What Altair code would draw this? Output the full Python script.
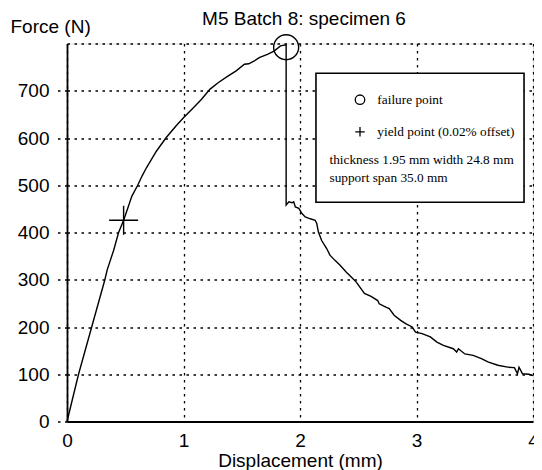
import altair as alt
import pandas as pd

# ---- data ----
disp = [0, 0.099, 0.212, 0.325, 0.345, 0.40, 0.443, 0.486, 0.528, 0.557, 0.607,
        0.645, 0.682, 0.767, 0.852, 0.937, 1.0, 1.085, 1.155, 1.226, 1.297, 1.381,
        1.452, 1.523, 1.56, 1.608, 1.65, 1.72, 1.777, 1.833, 1.881, 1.881, 1.904,
        1.932, 1.946, 1.96, 1.99, 2.017, 2.045, 2.088, 2.13, 2.144, 2.158, 2.186,
        2.229, 2.257, 2.30, 2.342, 2.398, 2.455, 2.483, 2.553, 2.61, 2.667, 2.68,
        2.737, 2.766, 2.808, 2.864, 2.907, 2.963, 2.992, 3.048, 3.119, 3.175, 3.231,
        3.316, 3.345, 3.36, 3.415, 3.486, 3.557, 3.613, 3.698, 3.783, 3.84, 3.867,
        3.88, 3.91, 3.966, 4.0]
force = [0, 100, 200, 300, 321, 362, 400, 426, 456, 477, 500,
         520, 537, 572, 601, 626, 643, 664, 682, 703, 717, 731,
         742, 756, 757, 763, 770, 777, 784, 795, 797, 458, 465,
         463, 465, 454, 451, 440, 433, 429, 426, 419, 401, 383,
         366, 352, 341, 331, 316, 302, 295, 271, 265, 256, 249,
         242, 239, 225, 214, 207, 200, 189, 186, 179, 168, 161,
         154, 147, 154, 143, 140, 133, 126, 119, 115, 114, 101,
         115, 101, 100, 97]

failure_disp = [1.881]
failure_force = [792]
yield_disp = [0.486]
yield_force = [426]

x_ticks = [0, 1, 2, 3, 4]
y_ticks = [0, 100, 200, 300, 400, 500, 600, 700, 800]

legend_entries = ["failure point", "yield point (0.02% offset)"]
legend_notes = ["thickness 1.95 mm width 24.8 mm", "support span 35.0 mm"]

# ---- annotation box layout (in data units) ----
BOX = dict(x1=2.137, x2=3.923, y1=464, y2=737)
SYM_X = 2.515
ENTRY_X = 2.664
ENTRY_Y = [681, 613]
NOTE_X = 2.253
NOTE_Y = [553, 516]

FONT = "Liberation Sans"
SERIF = "Liberation Serif"
PLUS = "M-1,0H1M0,-1V1"
DASH = [2.5, 4.5]

xs = alt.Scale(domain=[0, 4], nice=False, zero=False)
ys = alt.Scale(domain=[0, 800], nice=False)

x_axis = alt.Axis(values=x_ticks, format="d", title="Displacement (mm)",
                  grid=True, gridDash=DASH, gridColor="black", gridWidth=1.3, gridOpacity=1,
                  domainColor="black", domainWidth=1.8, ticks=False, tickSize=0,
                  labelPadding=10, labelFont=FONT, labelFontSize=19, labelColor="black",
                  labelFlush=False, labelOverlap=False,
                  titleFont=FONT, titleFontSize=19, titleFontWeight="normal",
                  titleColor="black", titleY=45, titleBaseline="alphabetic")
y_axis = alt.Axis(values=y_ticks, format="d", title="Force (N)",
                  labelExpr="datum.value == 800 ? '' : datum.label",
                  grid=True, gridDash=DASH, gridColor="black", gridWidth=1.3, gridOpacity=1,
                  domainColor="black", domainWidth=1.8,
                  ticks=True, tickSize=10, tickDash=DASH, tickColor="black", tickWidth=1.3,
                  tickOpacity=alt.condition("datum.value == 800", alt.value(0), alt.value(1)),
                  labelPadding=8, labelFont=FONT, labelFontSize=19, labelColor="black",
                  labelFlush=False, labelOverlap=False,
                  titleFont=FONT, titleFontSize=19, titleFontWeight="normal",
                  titleColor="black", titleAngle=0, titleAlign="left",
                  titleBaseline="alphabetic", titleX=-57, titleY=-11)


def X(field="disp"):
    return alt.X(f"{field}:Q", scale=xs, axis=x_axis)


def Y(field="force"):
    return alt.Y(f"{field}:Q", scale=ys, axis=y_axis)


curve_df = pd.DataFrame({"i": list(range(len(disp))), "disp": disp, "force": force})
curve = alt.Chart(curve_df).mark_line(color="black", strokeWidth=1.4).encode(
    x=X(), y=Y(), order="i:Q")

fail = alt.Chart(pd.DataFrame({"disp": failure_disp, "force": failure_force})).mark_point(
    shape="circle", size=625, filled=False, color="black", strokeWidth=1.4, opacity=1
).encode(x=X(), y=Y())

yld = alt.Chart(pd.DataFrame({"disp": yield_disp, "force": yield_force})).mark_point(
    shape=PLUS, size=841, filled=False, color="black", strokeWidth=1.4, opacity=1
).encode(x=X(), y=Y())

box = alt.Chart(pd.DataFrame({"disp": [BOX["x1"]], "disp2": [BOX["x2"]],
                              "force": [BOX["y1"]], "force2": [BOX["y2"]]})).mark_rect(
    fill="white", stroke="black", strokeWidth=1.6
).encode(x=X(), x2="disp2:Q", y=Y(), y2="force2:Q")

sym_df = pd.DataFrame({"disp": [SYM_X, SYM_X], "force": ENTRY_Y, "kind": legend_entries})
sym_circle = alt.Chart(sym_df.iloc[[0]]).mark_point(
    shape="circle", size=90, filled=False, color="black", strokeWidth=1.3, opacity=1
).encode(x=X(), y=Y())
sym_plus = alt.Chart(sym_df.iloc[[1]]).mark_point(
    shape=PLUS, size=90, filled=False, color="black", strokeWidth=1.3, opacity=1
).encode(x=X(), y=Y())

text_df = pd.DataFrame({
    "disp": [ENTRY_X, ENTRY_X, NOTE_X, NOTE_X],
    "force": ENTRY_Y + NOTE_Y,
    "label": legend_entries + legend_notes,
})
texts = alt.Chart(text_df).mark_text(
    font=SERIF, fontSize=13.3, align="left", baseline="middle", color="black"
).encode(x=X(), y=Y(), text="label:N")

chart = alt.layer(curve, fail, yld, box, sym_circle, sym_plus, texts).properties(
    width=466, height=378,
    title=alt.TitleParams("M5 Batch 8: specimen 6", font=FONT, fontSize=19,
                          fontWeight="normal", color="black", anchor="middle",
                          baseline="alphabetic", offset=0, dy=26, dx=4),
    autosize=alt.AutoSizeParams(type="none"),
    padding={"left": 59, "top": 35.5, "right": 1, "bottom": 48},
).configure_view(strokeWidth=0).configure(background="white")

chart.save("out.html", embed_options={"renderer": "svg", "actions": False})
